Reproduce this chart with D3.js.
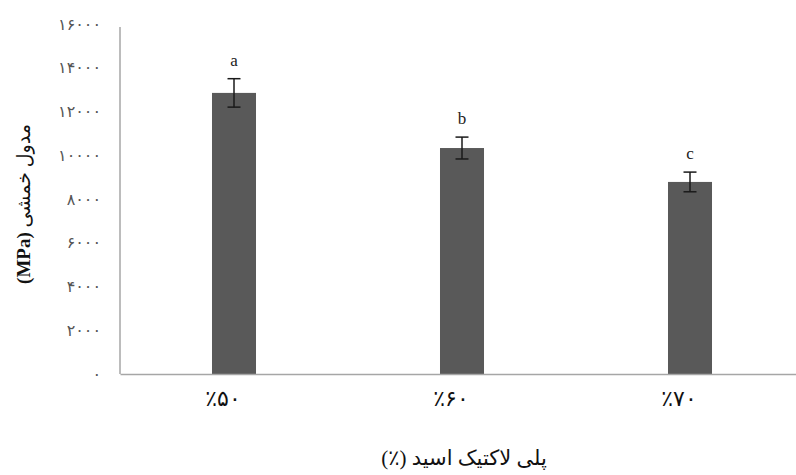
<!DOCTYPE html>
<html>
<head>
<meta charset="utf-8">
<script src="https://cdn.jsdelivr.net/npm/d3@7"></script>
<style>
  html, body { margin: 0; padding: 0; background: #fff; }
  svg { display: block; }
</style>
</head>
<body>
<script>
// ---- data ----
const categories = ["٪۵۰", "٪۶۰", "٪۷۰"];
const values = [12850, 10330, 8780];
const errors = [650, 500, 450];
const letters = ["a", "b", "c"];
const yTicks = [0, 2000, 4000, 6000, 8000, 10000, 12000, 14000, 16000];
const yTickLabels = ["۰", "۲۰۰۰", "۴۰۰۰", "۶۰۰۰", "۸۰۰۰", "۱۰۰۰۰", "۱۲۰۰۰", "۱۴۰۰۰", "۱۶۰۰۰"];
const xTitle = "پلی لاکتیک اسید (٪)";
const yTitleUnit = "(MPa)";
const yTitleText = "مدول خمشی";

const W = 796, H = 475;
const svg = d3.select("body").append("svg").attr("width", W).attr("height", H);

const x = d3.scaleBand().domain(categories).range([120, 804]).padding(0);
const y = d3.scaleLinear().domain([0, 16000]).range([374, 24]);
const barW = x.bandwidth() * 0.193;
const serif = "'Liberation Serif', 'DejaVu Sans', serif";

// y axis
const yAxis = d3.axisLeft(y).tickValues(yTicks).tickSize(0).tickPadding(0)
  .tickFormat((d, i) => yTickLabels[i]);
const gy = svg.append("g").attr("transform", "translate(120,0)").call(yAxis);
gy.select(".domain").remove();
gy.selectAll("text").attr("x", -19).attr("font-size", 16).attr("letter-spacing", 5)
  .attr("fill", "#555").attr("font-family", serif).attr("text-anchor", "end");
svg.append("line").attr("x1", 120).attr("x2", 120).attr("y1", 27).attr("y2", y(0))
  .attr("stroke", "#a6a6a6").attr("stroke-width", 1.5);

// bars
svg.append("g").selectAll("rect").data(values).join("rect")
  .attr("x", (d, i) => x(categories[i]) + x.bandwidth() / 2 - barW / 2)
  .attr("width", barW)
  .attr("y", d => y(d))
  .attr("height", d => y(0) - y(d))
  .attr("fill", "#595959");

// x axis
const xAxis = d3.axisBottom(x).tickSize(0).tickPadding(0);
const gx = svg.append("g").attr("transform", `translate(0,${y(0)})`).call(xAxis);
gx.select(".domain").attr("stroke", "#a6a6a6").attr("stroke-width", 1.5);
gx.selectAll("text").attr("x", -11).attr("y", 25).attr("dy", "0.32em").attr("font-size", 22)
  .attr("letter-spacing", 2).attr("fill", "#111").attr("font-family", serif);

// error bars
const eg = svg.append("g").attr("stroke", "#1a1a1a").attr("stroke-width", 1.5);
values.forEach((v, i) => {
  const cx = x(categories[i]) + x.bandwidth() / 2;
  eg.append("line").attr("x1", cx).attr("x2", cx).attr("y1", y(v + errors[i])).attr("y2", y(v - errors[i]));
  eg.append("line").attr("x1", cx - 6.5).attr("x2", cx + 6.5).attr("y1", y(v + errors[i])).attr("y2", y(v + errors[i]));
  eg.append("line").attr("x1", cx - 6.5).attr("x2", cx + 6.5).attr("y1", y(v - errors[i])).attr("y2", y(v - errors[i]));
});

// significance letters
svg.append("g").selectAll("text").data(letters).join("text")
  .attr("x", (d, i) => x(categories[i]) + x.bandwidth() / 2)
  .attr("y", (d, i) => y(values[i] + errors[i]) - 13)
  .attr("text-anchor", "middle").attr("font-size", 17).attr("fill", "#222")
  .attr("font-family", serif).text(d => d);

// axis titles
svg.append("text").attr("x", 464).attr("y", 465).attr("text-anchor", "middle")
  .attr("direction", "rtl").attr("font-size", 21).attr("fill", "#111")
  .attr("font-family", serif).text(xTitle);

const yt = svg.append("text").attr("transform", "translate(30,204) rotate(-90)")
  .attr("text-anchor", "middle").attr("font-size", 19).attr("fill", "#111")
  .attr("font-family", serif);
yt.append("tspan").attr("font-weight", "bold").text(yTitleUnit);
yt.append("tspan").text("  " + yTitleText);
</script>
</body>
</html>
